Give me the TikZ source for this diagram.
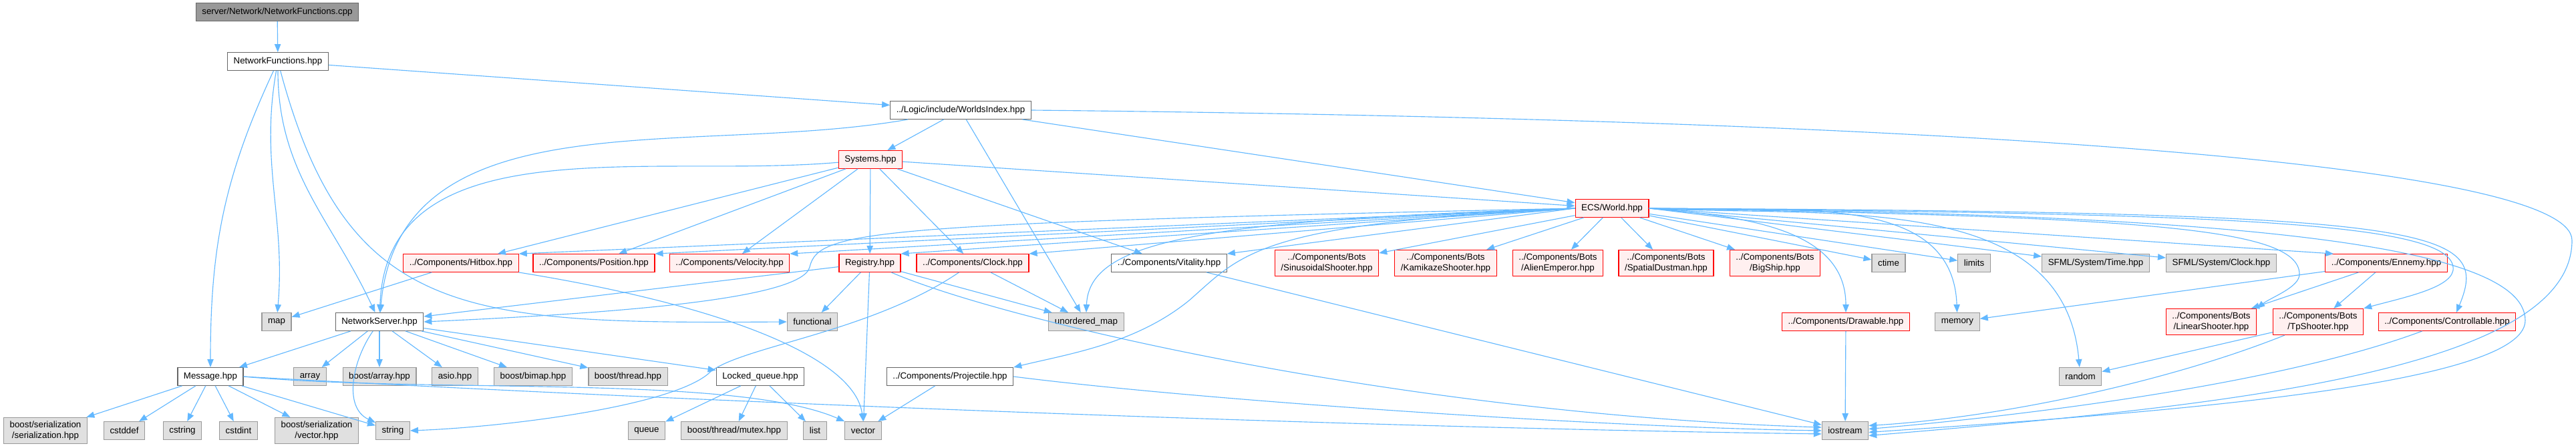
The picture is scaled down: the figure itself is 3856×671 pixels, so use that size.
\documentclass[tikz,border=0pt]{standalone}
\usepackage{fontspec}
\setmainfont{Liberation Sans}
\usetikzlibrary{arrows.meta,calc}
\definecolor{dxEdge}{HTML}{63B8FF}
\definecolor{dxFileLine}{HTML}{666666}
\definecolor{dxSysLine}{HTML}{999999}
\definecolor{dxSysFill}{HTML}{E0E0E0}
\definecolor{dxTruncLine}{HTML}{FF0000}
\definecolor{dxTruncFill}{HTML}{FFF0F0}
\definecolor{dxRootFill}{HTML}{999999}

\begin{document}
\begin{tikzpicture}[
    x=0.75pt, y=-0.75pt,
    arrow/.style={
        -{Triangle[length=9pt,width=7pt]},
        draw=dxEdge,
        line width=0.85pt,
    },
    file/.style={
        rectangle,
        draw=dxFileLine,
        fill=white,
        line width=0.9pt,
        inner xsep=6.8pt,
        inner ysep=4pt,
        minimum height=20pt,
        align=center,
        font=\fontsize{10}{12}\selectfont,
    },
    file_sys/.style={file, draw=dxSysLine, fill=dxSysFill},
    file_trunc/.style={file, draw=dxTruncLine, fill=dxTruncFill},
    file_root/.style={file, draw=dxFileLine, fill=dxRootFill},
]
    \useasboundingbox (0,0) rectangle (3856,671);

    % === Top chain ===
    \node[file_root]  (root)    at (415,18)   {server/Network/NetworkFunctions.cpp};
    \node[file]       (netfunc) at (416,92)   {NetworkFunctions.hpp};
    \node[file]       (worlds)  at (1438,165) {../Logic/include/WorldsIndex.hpp};
    \node[file_trunc] (systems) at (1303,239) {Systems.hpp};
    \node[file_trunc] (world)   at (2413,312) {ECS/World.hpp};

    % === Components ===
    \node[file_trunc] (hitbox)    at (690,394)  {../Components/Hitbox.hpp};
    \node[file_trunc] (position)  at (889,394)  {../Components/Position.hpp};
    \node[file_trunc] (velocity)  at (1092,394) {../Components/Velocity.hpp};
    \node[file_trunc] (registry)  at (1302,394) {Registry.hpp};
    \node[file_trunc] (clock)     at (1456,394) {../Components/Clock.hpp};
    \node[file]       (vitality)  at (1750,394) {../Components/Vitality.hpp};
    \node[file_trunc] (sinus)     at (1986,394) {../Components/Bots\\/SinusoidalShooter.hpp};
    \node[file_trunc] (kamikaze)  at (2164,394) {../Components/Bots\\/KamikazeShooter.hpp};
    \node[file_trunc] (alien)     at (2332,394) {../Components/Bots\\/AlienEmperor.hpp};
    \node[file_trunc] (spatial)   at (2494,394) {../Components/Bots\\/SpatialDustman.hpp};
    \node[file_trunc] (bigship)   at (2657,394) {../Components/Bots\\/BigShip.hpp};
    \node[file_sys]   (ctime)     at (2827,394) {ctime};
    \node[file_sys]   (limits)    at (2955,394) {limits};
    \node[file_sys]   (sfmltime)  at (3137,394) {SFML/System/Time.hpp};
    \node[file_sys]   (sfmlclock) at (3325,394) {SFML/System/Clock.hpp};
    \node[file_trunc] (ennemy)    at (3572,394) {../Components/Ennemy.hpp};

    \node[file_sys]   (map)          at (414,482)  {map};
    \node[file]       (netserver)    at (568,482)  {NetworkServer.hpp};
    \node[file_sys]   (functional)   at (1216,482) {functional};
    \node[file_sys]   (umap)         at (1626,482) {unordered\_map};
    \node[file_trunc] (drawable)     at (2763,482) {../Components/Drawable.hpp};
    \node[file_sys]   (memory)       at (2930,482) {memory};
    \node[file_trunc] (linear)       at (3310,482) {../Components/Bots\\/LinearShooter.hpp};
    \node[file_trunc] (tpshooter)    at (3470,482) {../Components/Bots\\/TpShooter.hpp};
    \node[file_trunc] (controllable) at (3663,482) {../Components/Controllable.hpp};

    \node[file]     (message)    at (315,564)  {Message.hpp};
    \node[file_sys] (array)      at (464,564)  {array};
    \node[file_sys] (barray)     at (568,564)  {boost/array.hpp};
    \node[file_sys] (asio)       at (681,564)  {asio.hpp};
    \node[file_sys] (bimap)      at (798,564)  {boost/bimap.hpp};
    \node[file_sys] (bthread)    at (940,564)  {boost/thread.hpp};
    \node[file]     (lqueue)     at (1138,564) {Locked\_queue.hpp};
    \node[file]     (projectile) at (1422,564) {../Components/Projectile.hpp};
    \node[file_sys] (random)     at (3114,564) {random};

    % === System headers ===
    \node[file_sys] (serial)   at (68,645)   {boost/serialization\\/serialization.hpp};
    \node[file_sys] (cstddef)  at (186,645)  {cstddef};
    \node[file_sys] (cstring)  at (273,645)  {cstring};
    \node[file_sys] (cstdint)  at (357,645)  {cstdint};
    \node[file_sys] (bvector)  at (474,645)  {boost/serialization\\/vector.hpp};
    \node[file_sys] (string)   at (588,645)  {string};
    \node[file_sys] (queue)    at (968,645)  {queue};
    \node[file_sys] (mutex)    at (1099,645) {boost/thread/mutex.hpp};
    \node[file_sys] (list)     at (1220,645) {list};
    \node[file_sys] (vector)   at (1292,645) {vector};
    \node[file_sys] (iostream) at (2762,645) {iostream};

    \coordinate (wibend)  at (3850,360);
    \coordinate (wbend)   at (3780,480);
    \coordinate (linbend) at (3442,410);
    \coordinate (tpbend)  at (3672,400);

    % Top chain
    \draw[arrow] (root) -- (netfunc);
    \draw[arrow] (netfunc) -- (worlds);
    \draw[arrow] (netfunc) to[out=-115,in=90] (message);
    \draw[arrow] (netfunc) to[out=-100,in=85] (map);
    \draw[arrow] (netfunc) to[out=-90,in=115] (netserver);
    \draw[arrow] (netfunc) .. controls (520,480) and (700,485) .. (functional.west);

    \draw[arrow] (worlds) -- (systems);
    \draw[arrow] (worlds) to[out=190,in=85] (netserver);
    \draw[arrow] (worlds) -- (umap);
    \draw[arrow] (worlds) -- (world);
    \draw[arrow] (worlds.east) .. controls (3000,180) and (3850,250) .. (wibend)
        .. controls (3850,560) and (3300,610) .. (iostream.-12);

    \draw[arrow] (systems) -- (world);
    \draw[arrow] (systems) -- (hitbox);
    \draw[arrow] (systems) -- (position);
    \draw[arrow] (systems) -- (velocity);
    \draw[arrow] (systems) -- (registry);
    \draw[arrow] (systems) -- (clock);
    \draw[arrow] (systems) -- (vitality);
    \draw[arrow] (systems) to[out=185,in=88] (netserver);

    % World fan, left side
    \draw[arrow] (world.west) -- (hitbox.north east);
    \draw[arrow] (world.west) -- (position.north east);
    \draw[arrow] (world.west) -- (velocity.north east);
    \draw[arrow] (world.west) -- (registry.north east);
    \draw[arrow] (world.west) -- (clock.north east);
    \draw[arrow] (world.west) .. controls (1300,335) and (1225,345) .. (1212,400)
        .. controls (1200,450) and (900,470) .. (netserver.east);
    \draw[arrow] (world.west) .. controls (1800,330) and (1630,360) .. (umap.north);
    \draw[arrow] (world.west) -- (vitality.north east);
    \draw[arrow] (world.west) .. controls (1880,335) and (1860,380) .. (1780,450)
        .. controls (1700,515) and (1600,530) .. (projectile.north east);
    \draw[arrow] (world) -- (sinus);
    \draw[arrow] (world) -- (kamikaze);
    \draw[arrow] (world) -- (alien);
    \draw[arrow] (world) -- (spatial);
    \draw[arrow] (world) -- (bigship);

    % World fan, right side
    \draw[arrow] (world) -- (ctime);
    \draw[arrow] (world) -- (limits);
    \draw[arrow] (world.east) -- (sfmltime);
    \draw[arrow] (world.east) -- (sfmlclock);
    \draw[arrow] (world.east) -- (ennemy.170);
    \draw[arrow] (world.east) to[out=-5,in=90] (drawable);
    \draw[arrow] (world.east) to[out=-3,in=92] (memory);
    \draw[arrow] (world.east) to[out=-3,in=95] (random);
    \draw[arrow] (world.east) .. controls (3200,325) and (3440,340) .. (linbend)
        .. controls (3443,430) and (3400,445) .. (linear.north east);
    \draw[arrow] (world.east) .. controls (3300,320) and (3665,330) .. (tpbend)
        .. controls (3676,430) and (3600,445) .. (tpshooter.north east);
    \draw[arrow] (world.east) .. controls (3650,318) and (3730,340) .. (controllable.45);
    \draw[arrow] (world.east) .. controls (3300,320) and (3780,360) .. (wbend)
        .. controls (3780,580) and (3200,620) .. (iostream.-4);

    % Components
    \draw[arrow] (hitbox) -- (map);
    \draw[arrow] (hitbox) .. controls (1100,460) and (1280,540) .. (vector.north);
    \draw[arrow] (registry) -- (netserver);
    \draw[arrow] (registry) -- (functional);
    \draw[arrow] (registry) -- (vector);
    \draw[arrow] (registry) -- (umap);
    \draw[arrow] (registry) .. controls (1500,480) and (2100,620) .. (iostream.172);
    \draw[arrow] (clock) -- (umap);
    \draw[arrow] (clock) .. controls (1300,500) and (1100,520) .. (1060,560)
        .. controls (1000,610) and (750,640) .. (string.east);
    \draw[arrow] (vitality) -- (iostream);
    \draw[arrow] (drawable) -- (iostream);
    \draw[arrow] (ennemy) -- (memory);
    \draw[arrow] (ennemy) -- (linear);
    \draw[arrow] (ennemy) -- (tpshooter);
    \draw[arrow] (tpshooter) -- (random);
    \draw[arrow] (tpshooter) .. controls (3250,570) and (3000,625) .. (iostream.12);
    \draw[arrow] (controllable) .. controls (3400,580) and (3000,625) .. (iostream.4);
    \draw[arrow] (projectile) -- (vector);
    \draw[arrow] (projectile.east) .. controls (1800,600) and (2400,640) .. (iostream.180);

    % Network side
    \draw[arrow] (netserver) -- (message);
    \draw[arrow] (netserver) -- (array);
    \draw[arrow] (netserver) -- (barray);
    \draw[arrow] (netserver) -- (asio);
    \draw[arrow] (netserver) -- (bimap);
    \draw[arrow] (netserver) -- (bthread);
    \draw[arrow] (netserver) -- (lqueue);
    \draw[arrow] (netserver) to[out=-125,in=155] (string);

    \draw[arrow] (message) -- (serial);
    \draw[arrow] (message) -- (cstddef);
    \draw[arrow] (message) -- (cstring);
    \draw[arrow] (message) -- (cstdint);
    \draw[arrow] (message) -- (bvector);
    \draw[arrow] (message) -- (string);
    \draw[arrow] (message.east) .. controls (650,590) and (1100,560) .. (vector.north west);
    \draw[arrow] (message.east) .. controls (1000,600) and (2000,640) .. (iostream.188);

    \draw[arrow] (lqueue) -- (queue);
    \draw[arrow] (lqueue) -- (mutex);
    \draw[arrow] (lqueue) -- (list);

\end{tikzpicture}
\end{document}
